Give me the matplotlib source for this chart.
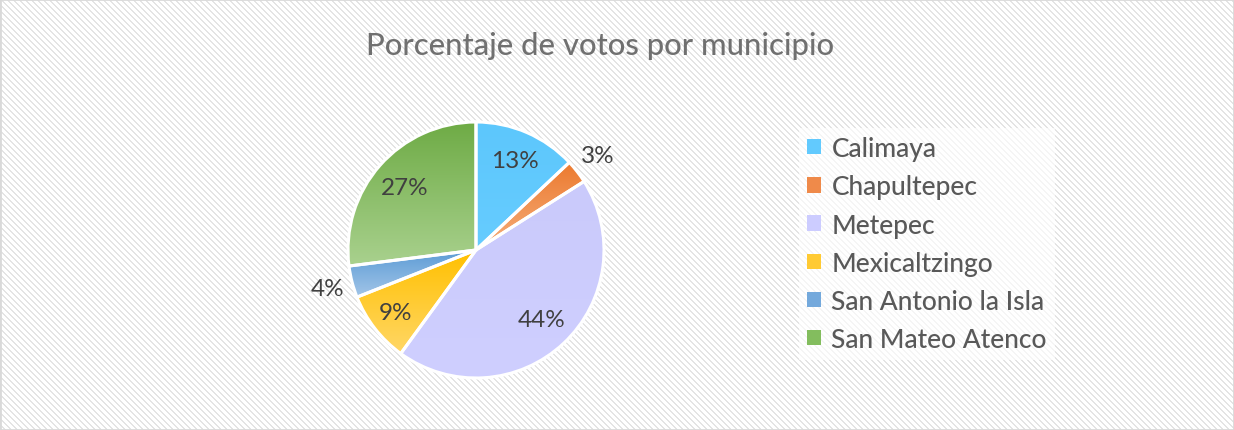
import numpy as np
import matplotlib
matplotlib.use("Agg")
import matplotlib.pyplot as plt
from matplotlib.colors import to_rgb
from matplotlib.patches import Rectangle

# ---- data ----
title = "Porcentaje de votos por municipio"
municipios = ["Calimaya", "Chapultepec", "Metepec", "Mexicaltzingo",
              "San Antonio la Isla", "San Mateo Atenco"]
porcentajes = [13, 3, 44, 9, 4, 27]

# ---- style ----
top_colors = ["#5DC7FC", "#EC7A2F", "#CACAFB", "#FFC000", "#5B9BD5", "#6EAB45"]
bot_colors = ["#66CCFF", "#F5AE7C", "#CFCFFF", "#FFD766", "#A2C5E8", "#A9D18E"]
legend_colors = ["#62CAFE", "#EF8A4A", "#CCCCFF", "#FFCA33", "#74A9DC", "#83BD5E"]
label_dist = [0.76, 1.2, 0.75, 0.8, 1.2, 0.74]

W, H = 1234, 431
fig = plt.figure(figsize=(W / 100, H / 100), dpi=100)

# striped background
yy, xx = np.mgrid[0:H, 0:W]
mask = ((xx - yy) % 6) < 2
bg = np.ones((H, W, 3))
bg[mask] = to_rgb("#E4E4E4")
fig.figimage(bg, 0, 0, origin="upper", zorder=-10)
fig.patches.append(Rectangle((0, 0), 1, 1, transform=fig.transFigure, fill=False,
                             edgecolor="#D9D9D9", linewidth=2, zorder=-5))

cx, cy, r = 476, 251, 128
ax = fig.add_axes([(cx - r) / W, (H - cy - r) / H, 2 * r / W, 2 * r / H])
ax.set_zorder(1)
ax.set_xlim(-1, 1)
ax.set_ylim(-1, 1)
ax.set_aspect("equal")
ax.axis("off")
ax.patch.set_alpha(0)

wedges, _ = ax.pie(porcentajes, startangle=90, counterclock=False, radius=1,
                   colors=legend_colors,
                   wedgeprops=dict(edgecolor="white", linewidth=2.2))

for i, w in enumerate(wedges):
    bb = w.get_path().get_extents(w.get_patch_transform())
    t = np.array(to_rgb(top_colors[i]))
    b = np.array(to_rgb(bot_colors[i]))
    n = 100
    f = np.linspace(0, 1, n)[:, None]
    grad = (t[None, :] * (1 - f) + b[None, :] * f)[:, None, :]
    im = ax.imshow(grad, extent=[bb.x0, bb.x1, bb.y0, bb.y1], origin="upper",
                   aspect="auto", zorder=1.5, interpolation="bilinear")
    im.set_clip_path(w)
    w.set_facecolor("none")
    w.set_zorder(2)
    # label
    ang = np.deg2rad((w.theta1 + w.theta2) / 2)
    d = label_dist[i]
    ax.text(d * np.cos(ang), d * np.sin(ang), f"{porcentajes[i]}%",
            ha="center", va="center", fontsize=17.5, color="#404040",
            family="Lato", zorder=3)

ax.set_xlim(-1, 1)
ax.set_ylim(-1, 1)

fig.text(600 / W, 1 - 46 / H, title, ha="center", va="center",
         fontsize=22.3, color="#707070", family="Lato", fontweight="medium")

handles = [Rectangle((0, 0), 1, 1, facecolor=c, edgecolor="none") for c in legend_colors]
leg = fig.legend(handles, municipios, loc="upper left",
                 bbox_to_anchor=(786 / W, 1 - 116 / H), frameon=True,
                 prop=dict(family="Lato", size=19, weight="medium"), labelcolor="#595959",
                 handlelength=0.52, handleheight=0.52, handletextpad=0.4,
                 labelspacing=0.5, borderpad=0.3, fancybox=False)
leg.set_zorder(2)
leg.get_frame().set_facecolor("white")
leg.get_frame().set_edgecolor("none")
leg.get_frame().set_alpha(0.65)

fig.savefig("out.png", dpi=100)
